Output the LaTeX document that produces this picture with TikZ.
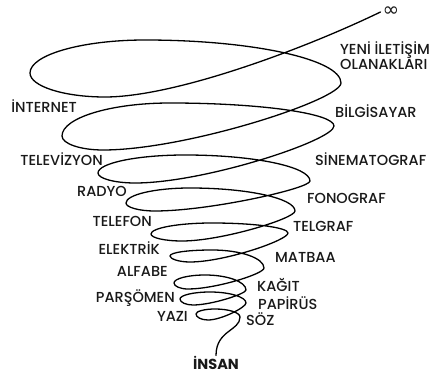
\documentclass[tikz,border=0pt]{standalone}
\usepackage{fontspec}
\setmainfont{Poppins}[UprightFont={* Medium}, BoldFont={* Bold}]
\newfontfamily\symfont{DejaVu Sans}
\begin{document}
\begin{tikzpicture}[x=1pt,y=-1pt,
  every node/.style={inner sep=0pt, text=black!90, font=\fontsize{14.5}{15}\selectfont},
  lft/.style={anchor=base east},
  rgt/.style={anchor=base west},
  coil/.style={line width=1.3pt, line cap=round, line join=round}]
\useasboundingbox (0,0) rectangle (431,379);
% left side
\node[lft] (internet) at (77,113) {İNTERNET};
\node[lft] (televizyon) at (103,166) {TELEVİZYON};
\node[lft] (radyo) at (127,197) {RADYO};
\node[lft] (telefon) at (152,227) {TELEFON};
\node[lft] (elektrik) at (160,255) {ELEKTRİK};
\node[lft] (alfabe) at (168,277) {ALFABE};
\node[lft] (parsomen) at (175,302) {PARŞÖMEN};
\node[lft] (yazi) at (188,321) {YAZI};
% right side
\node[anchor=north west, align=left] (yeni) at (340,41) {YENİ İLETİŞİM\\OLANAKLARI};
\node[rgt] (bilgisayar) at (335,118) {BİLGİSAYAR};
\node[rgt] (sinema) at (315,166) {SİNEMATOGRAF};
\node[rgt] (fonograf) at (307,204) {FONOGRAF};
\node[rgt] (telgraf) at (293,232) {TELGRAF};
\node[rgt] (matbaa) at (275,263) {MATBAA};
\node[rgt] (kagit) at (257,292) {KAĞIT};
\node[rgt] (papirus) at (258,309) {PAPİRÜS};
\node[rgt] (soz) at (246,326) {SÖZ};
\node[anchor=base, font=\fontsize{14.5}{15}\selectfont\bfseries] (insan) at (216,369) {İNSAN};
\node[inner sep=2pt, font=\symfont\fontsize{20}{20}\selectfont] (inf) at (391,12) {∞};
% the coil, from bottom to top
\draw[coil] (insan.north) .. controls (216,330) and (240,331) .. (240,317)
  .. controls (240,312.6) and (228.8,309) .. (215,309)
  .. controls (204.5,309) and (196,311.3) .. (196,314)
  .. controls (196,317.3) and (201.4,320) .. (208,320)
  .. controls (221.3,320) and (246,307.3) .. (246,303)
  .. controls (246,297) and (229.8,292) .. (210,292)
  .. controls (193.5,292) and (180,295.2) .. (180,299)
  .. controls (180,302.3) and (185.9,305) .. (193,305)
  .. controls (211.6,305) and (246,293.8) .. (246,290)
  .. controls (246,281.8) and (227.6,275) .. (205,275)
  .. controls (188,275) and (174,278.6) .. (174,283)
  .. controls (174,286.3) and (180.3,289) .. (188,289)
  .. controls (215,289) and (264,274) .. (264,268)
  .. controls (264,258.1) and (240.6,250) .. (212,250)
  .. controls (188.9,250) and (170,252.3) .. (170,256)
  .. controls (170,258.9) and (179,262) .. (190,262)
  .. controls (224.3,262) and (288,240.3) .. (288,233)
  .. controls (288,227.5) and (253.8,223) .. (212,223)
  .. controls (178.5,223) and (151,228) .. (151,234)
  .. controls (151,237.9) and (165,241) .. (182,241)
  .. controls (221.6,241) and (295,218.5) .. (295,211)
  .. controls (295,198.4) and (247.8,188) .. (190,188)
  .. controls (154.8,188) and (126,194.8) .. (126,203)
  .. controls (126,207.4) and (139,211) .. (155,211)
  .. controls (209.3,211) and (310,188.5) .. (310,181)
  .. controls (310,166.7) and (253.8,155) .. (185,155)
  .. controls (137.2,155) and (98,163.1) .. (98,173)
  .. controls (98,178.5) and (114.7,183) .. (135,183)
  .. controls (204.7,183) and (334,140.3) .. (334,126)
  .. controls (334,113.4) and (260.2,103) .. (170,103)
  .. controls (110.6,103) and (62,117.9) .. (62,136)
  .. controls (62,143.7) and (80.5,150) .. (103,150)
  .. controls (186.3,150) and (341,99.8) .. (341,83)
  .. controls (341,59.4) and (252.8,40) .. (145,40)
  .. controls (81.8,40) and (30,54.9) .. (30,73)
  .. controls (30,86.2) and (63.8,97) .. (105,97)
  .. controls (175,97) and (304,49) .. (inf.west);
\end{tikzpicture}
\end{document}
